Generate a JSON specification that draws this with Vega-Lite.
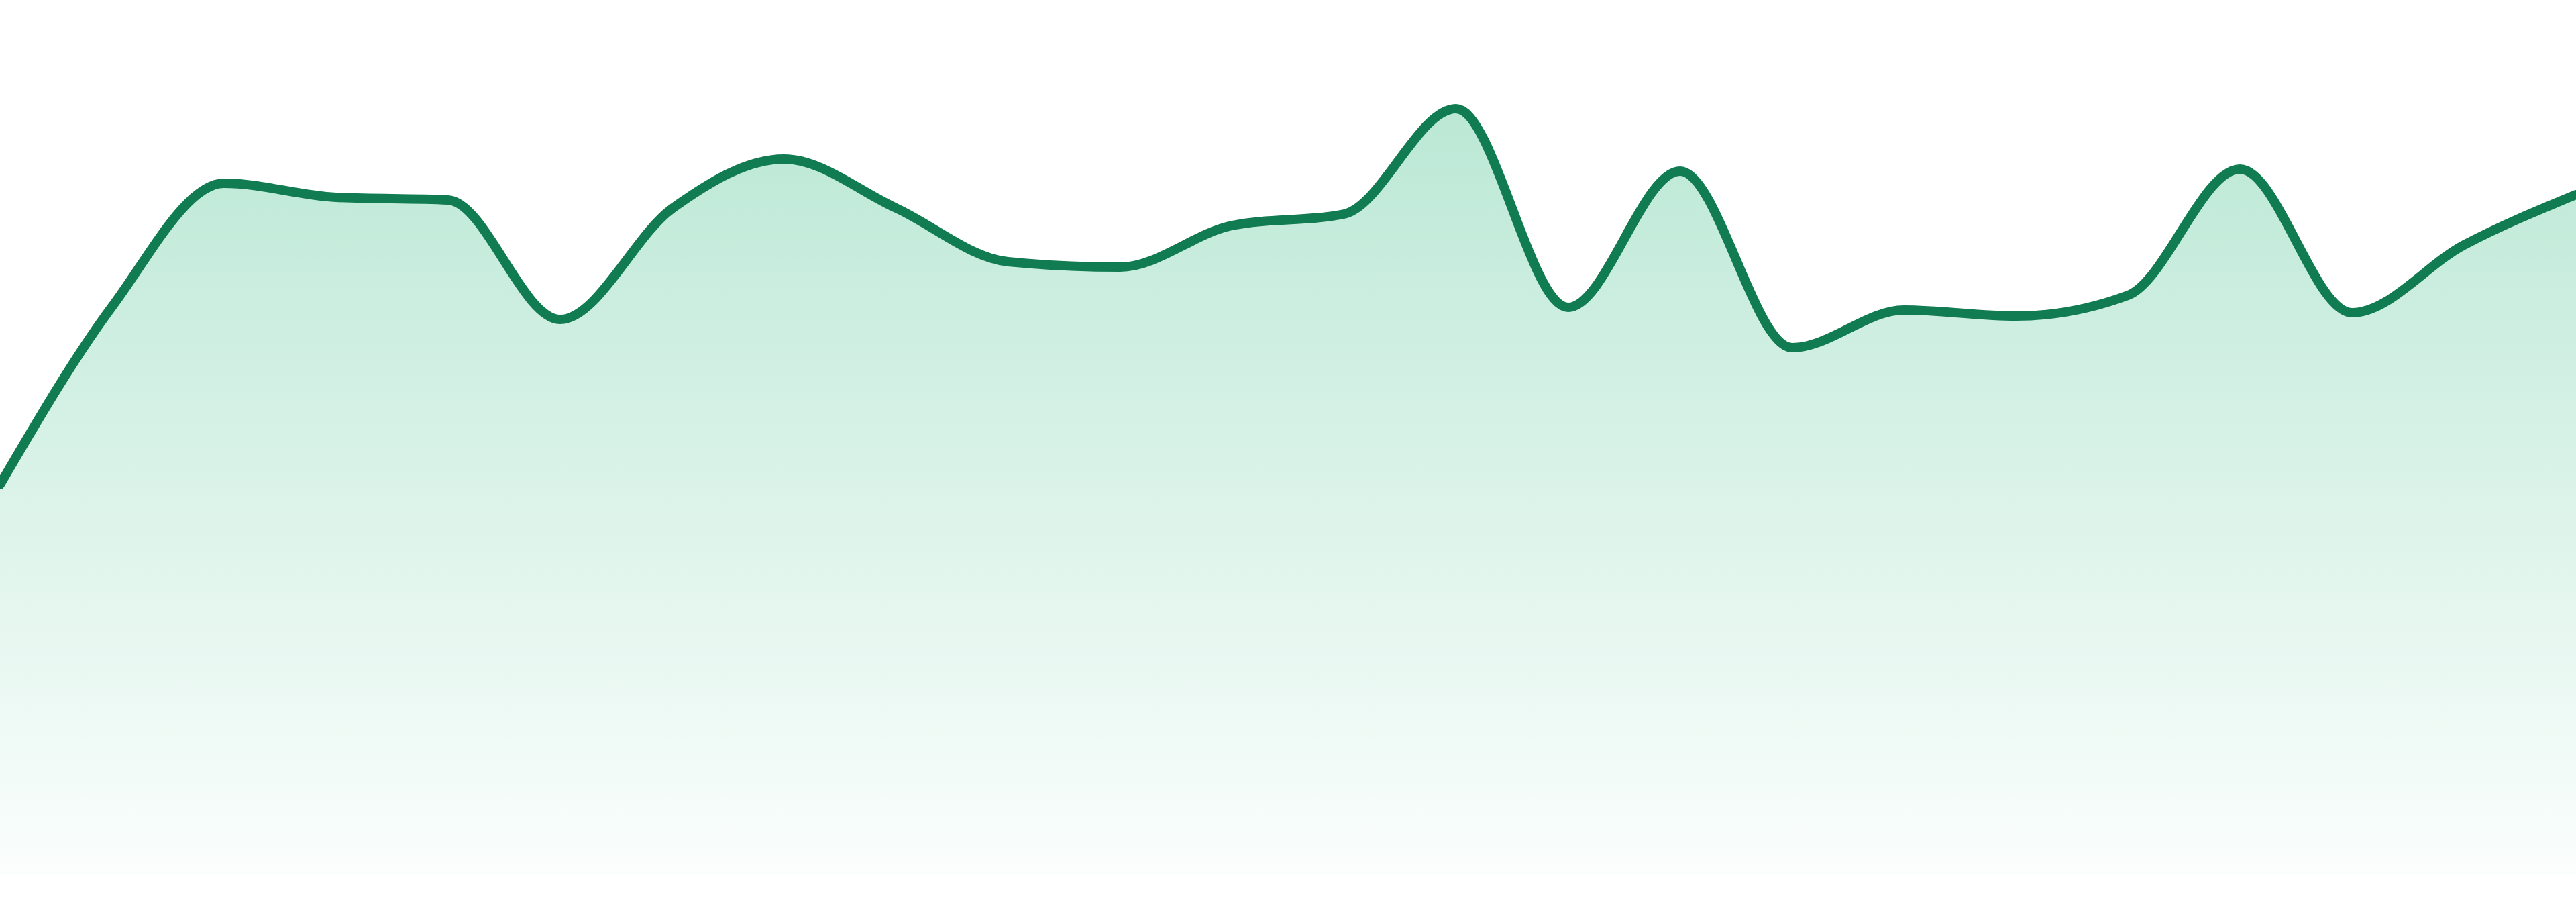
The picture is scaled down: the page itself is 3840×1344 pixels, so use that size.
{
  "$schema": "https://vega.github.io/schema/vega-lite/v6.json",
  "width": 3840,
  "height": 1304,
  "autosize": "none",
  "padding": 0,
  "background": "white",
  "config": {"view": {"stroke": null}},
  "data": {
    "values": [
      {"i": 0, "value": 582},
      {"i": 1, "value": 847},
      {"i": 2, "value": 1031},
      {"i": 3, "value": 1010},
      {"i": 4, "value": 1006},
      {"i": 5, "value": 828},
      {"i": 6, "value": 993},
      {"i": 7, "value": 1067},
      {"i": 8, "value": 994},
      {"i": 9, "value": 914},
      {"i": 10, "value": 906},
      {"i": 11, "value": 968},
      {"i": 12, "value": 985},
      {"i": 13, "value": 1142},
      {"i": 14, "value": 846},
      {"i": 15, "value": 1049},
      {"i": 16, "value": 786},
      {"i": 17, "value": 842},
      {"i": 18, "value": 833},
      {"i": 19, "value": 864},
      {"i": 20, "value": 1052},
      {"i": 21, "value": 838},
      {"i": 22, "value": 939},
      {"i": 23, "value": 1014}
    ]
  },
  "encoding": {
    "x": {
      "field": "i",
      "type": "quantitative",
      "axis": null,
      "scale": {"domain": [0, 23], "nice": false, "zero": false}
    },
    "y": {
      "field": "value",
      "type": "quantitative",
      "axis": null,
      "scale": {"domain": [0, 1304], "nice": false}
    }
  },
  "layer": [
    {
      "mark": {
        "type": "area",
        "interpolate": "monotone",
        "color": {
          "gradient": "linear",
          "x1": 0, "y1": 0, "x2": 0, "y2": 1,
          "stops": [
            {"offset": 0, "color": "#bbe8d5"},
            {"offset": 1, "color": "#fbfefd"}
          ]
        }
      }
    },
    {
      "mark": {
        "type": "line",
        "interpolate": "monotone",
        "color": "#117b51",
        "strokeWidth": 14,
        "strokeCap": "round",
        "strokeJoin": "round"
      }
    }
  ]
}
